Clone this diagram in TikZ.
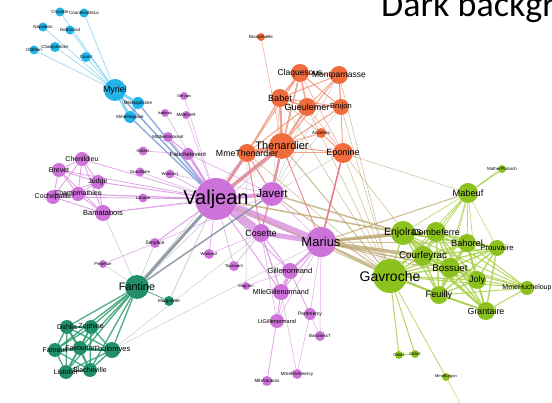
\documentclass[tikz,border=0pt]{standalone}
\usepackage{fontspec}
\setmainfont{Liberation Sans}
\newfontfamily\titlefont{Carlito}
\pgfdeclarelayer{bg}
\pgfdeclarelayer{edges}
\pgfsetlayers{bg,edges,main}
\definecolor{cB}{HTML}{22B4E6}
\definecolor{cP}{HTML}{CC72D8}
\definecolor{cO}{HTML}{F16C3C}
\definecolor{cG}{HTML}{8CC21E}
\definecolor{cD}{HTML}{21906A}
\definecolor{kB}{HTML}{6DCBEE}
\definecolor{kV}{HTML}{7C9FDA}
\definecolor{kP}{HTML}{D98FE2}
\definecolor{kO}{HTML}{F28B6E}
\definecolor{kS}{HTML}{E5808C}
\definecolor{kR}{HTML}{E95A78}
\definecolor{kT}{HTML}{BBA46C}
\definecolor{kG}{HTML}{A5CF40}
\definecolor{kD}{HTML}{2C9C6E}
\definecolor{kX}{HTML}{BDBDBD}
\definecolor{kF}{HTML}{7F8E9C}
\tikzset{
  vtx/.style={circle, inner sep=0pt, draw=none},
  lab/.style={inner sep=0pt, text=black},
  eB/.style={draw=kB, draw opacity=0.8},
  eV/.style={draw=kV, draw opacity=0.85},
  eP/.style={draw=kP, draw opacity=0.8},
  eO/.style={draw=kO, draw opacity=0.8},
  eS/.style={draw=kS, draw opacity=0.85},
  eR/.style={draw=kR, draw opacity=0.85},
  eT/.style={draw=kT, draw opacity=0.75},
  eG/.style={draw=kG, draw opacity=0.8},
  eD/.style={draw=kD, draw opacity=0.85},
  eX/.style={draw=kX, draw opacity=0.75},
  eF/.style={draw=kF, draw opacity=0.85}
}
\newcommand{\vx}[5]{\node[vtx, minimum size=#4pt, fill=#5] (#1) at (#2,#3) {};}
\newcommand{\lb}[3]{\node[lab, font=\fontsize{#3}{#3}\selectfont] (l#1) at (#1) {#2};}
\begin{document}
\begin{tikzpicture}[x=1pt,y=-1pt]
\useasboundingbox (0,0) rectangle (552,403);
\begin{pgfonlayer}{bg}
\fill[white] (0,0) rectangle (552,403);
\end{pgfonlayer}
% ---------- vertices ----------
% blue
\vx{Myriel}{115}{90}{22}{cB}
\vx{Napoleon}{43}{27}{9}{cB}
\vx{CountessDeLo}{84}{13}{9}{cB}
\vx{Cravatte}{60}{12}{9}{cB}
\vx{Geborand}{70}{30}{9}{cB}
\vx{Champtercier}{55}{47}{10}{cB}
\vx{OldMan}{34}{50}{9}{cB}
\vx{Count}{86}{57}{10}{cB}
\vx{MlleBaptistine}{138}{103}{12}{cB}
\vx{MmeMagloire}{130}{117}{12}{cB}
% purple
\vx{Valjean}{216}{199}{42}{cP}
\vx{Gervais}{184}{96}{8}{cP}
\vx{Isabeau}{165}{113}{8}{cP}
\vx{MmeDeR}{186}{115}{8}{cP}
\vx{MotherInnocent}{168}{137}{10}{cP}
\vx{Gribier}{143}{151}{9}{cP}
\vx{Fauchelevent}{188}{154}{12}{cP}
\vx{Scaufflaire}{140}{172}{9}{cP}
\vx{Woman1}{170}{174}{9}{cP}
\vx{Labarre}{143}{198}{9}{cP}
\vx{Chenildieu}{82}{159}{14}{cP}
\vx{Brevet}{59}{170}{14}{cP}
\vx{Judge}{98}{182}{14}{cP}
\vx{Champmathieu}{78}{194}{14}{cP}
\vx{Cochepaille}{53}{197}{14}{cP}
\vx{Bamatabois}{103}{213}{16}{cP}
\vx{Simplice}{155}{243}{10}{cP}
\vx{Perpetue}{103}{264}{8}{cP}
\vx{Woman2}{209}{254}{10}{cP}
\vx{Toussaint}{234}{266}{10}{cP}
\vx{Magnon}{246}{286}{8}{cP}
\vx{Javert}{272}{194}{24}{cP}
\vx{Cosette}{261}{233}{18}{cP}
\vx{Marius}{321}{242}{30}{cP}
\vx{Gillenormand}{290}{271}{16}{cP}
\vx{MlleGillenormand}{281}{292}{16}{cP}
\vx{LtGillenormand}{277}{321}{14}{cP}
\vx{Pontmercy}{310}{314}{12}{cP}
\vx{BaronessT}{320}{336}{10}{cP}
\vx{MmePontmercy}{297}{374}{10}{cP}
\vx{MlleVaubois}{267}{381}{10}{cP}
% orange
\vx{Thenardier}{282}{146}{26}{cO}
\vx{MmeThenardier}{247}{153}{18}{cO}
\vx{Eponine}{343}{153}{20}{cO}
\vx{Anzelma}{321}{133}{10}{cO}
\vx{Boulatruelle}{261}{37}{8}{cO}
\vx{Claquesous}{300}{73}{18}{cO}
\vx{Montparnasse}{339}{75}{18}{cO}
\vx{Babet}{280}{98}{18}{cO}
\vx{Gueulemer}{307}{107}{18}{cO}
\vx{Brujon}{341}{107}{16}{cO}
% green
\vx{Gavroche}{390}{276}{34}{cG}
\vx{Enjolras}{403}{233}{24}{cG}
\vx{Combeferre}{436}{232}{20}{cG}
\vx{Courfeyrac}{423}{256}{20}{cG}
\vx{Bossuet}{450}{268}{20}{cG}
\vx{Bahorel}{467}{243}{18}{cG}
\vx{Prouvaire}{497}{248}{16}{cG}
\vx{Joly}{477}{280}{18}{cG}
\vx{Feuilly}{439}{295}{18}{cG}
\vx{Grantaire}{486}{311}{18}{cG}
\vx{MmeHucheloup}{527}{288}{14}{cG}
\vx{Mabeuf}{468}{193}{20}{cG}
\vx{MotherPlutarch}{502}{169}{8}{cG}
\vx{Child1}{399}{355}{8}{cG}
\vx{Child2}{415}{354}{8}{cG}
\vx{MmeBurgon}{446}{377}{8}{cG}
\coordinate (Jondrette) at (472,425);
% dark green
\vx{Fantine}{137}{287}{24}{cD}
\vx{Marguerite}{169}{301}{10}{cD}
\vx{Dahlia}{67}{327}{14}{cD}
\vx{Zephine}{91}{327}{14}{cD}
\vx{Fameuil}{55}{350}{14}{cD}
\vx{Favourite}{80}{348}{14}{cD}
\vx{Tholomyes}{112}{350}{16}{cD}
\vx{Listolier}{66}{372}{14}{cD}
\vx{Blacheville}{90}{370}{14}{cD}
% ---------- edges ----------
\begin{pgfonlayer}{edges}
\clip (0,0) rectangle (552,403);
\foreach \a/\b/\w in {Myriel/Napoleon/0.6, Myriel/CountessDeLo/0.6, Myriel/Cravatte/0.6, Myriel/Geborand/0.6, Myriel/Champtercier/0.6, Myriel/OldMan/0.6, Myriel/Count/0.6, Myriel/MlleBaptistine/3, Myriel/MmeMagloire/3, MlleBaptistine/MmeMagloire/3}
  \draw[eB, line width=\w pt] (\a) -- (\b);
\foreach \a/\b/\w in {Myriel/Valjean/1.6, MlleBaptistine/Valjean/1.4, MmeMagloire/Valjean/1.4}
  \draw[eV, line width=\w pt] (\a) -- (\b);
% purple
\foreach \a/\b/\w in {Valjean/Labarre/0.5, Valjean/MmeDeR/0.5, Valjean/Isabeau/0.5, Valjean/Gervais/0.5, Valjean/Fauchelevent/2.4, Valjean/Bamatabois/0.8, Valjean/Simplice/1, Valjean/Scaufflaire/0.5, Valjean/Woman1/0.7, Valjean/Judge/1, Valjean/Champmathieu/1.2, Valjean/Brevet/0.8, Valjean/Chenildieu/0.8, Valjean/Cochepaille/0.8, Valjean/Javert/4, Valjean/Cosette/8.5, Valjean/Marius/7, Valjean/Woman2/0.8, Valjean/Toussaint/0.6, Valjean/MotherInnocent/0.8, Valjean/Gillenormand/1, Valjean/MlleGillenormand/1, Fauchelevent/MotherInnocent/1, Fauchelevent/Gribier/0.6, Fauchelevent/Javert/0.6, Bamatabois/Javert/0.5, Simplice/Perpetue/0.6, Simplice/Javert/0.5, Javert/Woman1/0.5, Cosette/Marius/5, Cosette/Gillenormand/1, Cosette/MlleGillenormand/1.2, Cosette/LtGillenormand/0.5, Cosette/Woman2/0.5, Cosette/Toussaint/0.5, Cosette/Javert/0.6, Marius/Gillenormand/2.2, Marius/MlleGillenormand/1, Marius/Pontmercy/0.5, Marius/LtGillenormand/0.5, Marius/BaronessT/0.5, Marius/Javert/0.5, Gillenormand/MlleGillenormand/3, Gillenormand/Magnon/0.5, Gillenormand/Pontmercy/0.5, Gillenormand/LtGillenormand/0.6, Gillenormand/BaronessT/0.5, MlleGillenormand/MlleVaubois/0.5, MlleGillenormand/LtGillenormand/0.6, MlleGillenormand/MmePontmercy/0.5, MmePontmercy/Pontmercy/0.5, LtGillenormand/MlleVaubois/0.4}
  \draw[eP, line width=\w pt] (\a) -- (\b);
\foreach \a [count=\i] in {Chenildieu,Brevet,Judge,Champmathieu,Cochepaille,Bamatabois}
  \foreach \b [count=\j] in {Chenildieu,Brevet,Judge,Champmathieu,Cochepaille,Bamatabois}
    {\ifnum\j>\i \draw[eP, line width=0.9pt] (\a) -- (\b);\fi}
% orange
\foreach \a/\b/\w in {Thenardier/MmeThenardier/4, Thenardier/Eponine/1, Thenardier/Anzelma/0.6, Thenardier/Babet/2.4, Thenardier/Gueulemer/2, Thenardier/Claquesous/1.5, Thenardier/Montparnasse/1, Thenardier/Brujon/1, Thenardier/Boulatruelle/0.5, MmeThenardier/Babet/1.2, MmeThenardier/Gueulemer/1, MmeThenardier/Claquesous/1, MmeThenardier/Eponine/1, MmeThenardier/Anzelma/0.5, Babet/Gueulemer/1.5, Babet/Claquesous/1.5, Babet/Montparnasse/1, Babet/Brujon/1, Gueulemer/Claquesous/1.5, Gueulemer/Montparnasse/1, Gueulemer/Brujon/1, Claquesous/Montparnasse/1, Claquesous/Brujon/1, Montparnasse/Brujon/1, Eponine/Anzelma/0.5, Eponine/Montparnasse/0.5, Eponine/Brujon/0.5, Eponine/Claquesous/0.5, Eponine/Gueulemer/0.5, Eponine/Babet/0.5}
  \draw[eO, line width=\w pt] (\a) -- (\b);
\foreach \a/\b/\w in {Valjean/Thenardier/3.5, Valjean/MmeThenardier/3, Thenardier/Javert/2, MmeThenardier/Javert/1, Thenardier/Cosette/1, MmeThenardier/Cosette/1}
  \draw[eS, line width=\w pt] (\a) -- (\b);
\foreach \a/\b/\w in {Eponine/Marius/1.5, Thenardier/Marius/0.8}
  \draw[eR, line width=\w pt] (\a) -- (\b);
\foreach \a/\b/\w in {Javert/Babet/0.5, Javert/Claquesous/0.5, Javert/Gueulemer/0.5, Javert/Montparnasse/0.5, Javert/Brujon/0.5, Javert/Eponine/0.5, MmeThenardier/Magnon/0.5, Fantine/Bamatabois/0.6, Fantine/Simplice/0.6, Fantine/Perpetue/0.5, Fantine/Thenardier/0.6, Fantine/MmeThenardier/0.6, Marguerite/Valjean/0.8, Tholomyes/Cosette/0.5, Tholomyes/Marius/0.5}
  \draw[eX, line width=\w pt] (\a) -- (\b);
\foreach \a/\b/\w in {Valjean/Fantine/3, Fantine/Javert/1.5}
  \draw[eF, line width=\w pt] (\a) -- (\b);
% tan
\foreach \a/\b/\w in {Marius/Enjolras/3, Marius/Courfeyrac/3.6, Marius/Combeferre/1.5, Marius/Bossuet/1.5, Marius/Feuilly/0.8, Marius/Bahorel/0.8, Marius/Joly/0.8, Marius/Gavroche/2, Marius/Mabeuf/1, Eponine/Mabeuf/0.5, Eponine/Courfeyrac/0.5, Eponine/Gavroche/0.5, Gavroche/Thenardier/1, Gavroche/Babet/0.5, Gavroche/Gueulemer/0.5, Gavroche/Montparnasse/0.5, Gavroche/Brujon/0.5, Gavroche/Javert/1, Gavroche/Valjean/0.8, Enjolras/Javert/1.5, Enjolras/Valjean/1.5, Gavroche/MmeThenardier/0.5}
  \draw[eT, line width=\w pt] (\a) -- (\b);
% green
\foreach \a/\b/\w in {Mabeuf/MotherPlutarch/1.5, Mabeuf/Enjolras/0.6, Mabeuf/Combeferre/0.8, Mabeuf/Courfeyrac/0.8, Mabeuf/Bossuet/0.6, Mabeuf/Bahorel/0.8, Mabeuf/Joly/0.6, Mabeuf/Feuilly/0.8, Mabeuf/Gavroche/0.8, Mabeuf/Prouvaire/0.5, MmeHucheloup/Bossuet/1, MmeHucheloup/Joly/1, MmeHucheloup/Grantaire/1, MmeHucheloup/Bahorel/1, MmeHucheloup/Courfeyrac/1, MmeHucheloup/Gavroche/1, MmeHucheloup/Feuilly/1, MmeHucheloup/Enjolras/1, MmeHucheloup/Combeferre/1, Gavroche/Child1/1, Gavroche/Child2/1, Child1/Child2/1, Gavroche/MmeBurgon/0.8, MmeBurgon/Jondrette/0.5}
  \draw[eG, line width=\w pt] (\a) -- (\b);
\foreach \a [count=\i] in {Enjolras,Combeferre,Courfeyrac,Bossuet,Bahorel,Joly,Feuilly,Grantaire,Prouvaire,Gavroche}
  \foreach \b [count=\j] in {Enjolras,Combeferre,Courfeyrac,Bossuet,Bahorel,Joly,Feuilly,Grantaire,Prouvaire,Gavroche}
    {\ifnum\j>\i \draw[eG, line width=1.4pt] (\a) -- (\b);\fi}
% dark green
\foreach \a [count=\i] in {Fantine,Tholomyes,Listolier,Fameuil,Blacheville,Favourite,Dahlia,Zephine}
  \foreach \b [count=\j] in {Fantine,Tholomyes,Listolier,Fameuil,Blacheville,Favourite,Dahlia,Zephine}
    {\ifnum\j>\i \draw[eD, line width=1.3pt] (\a) -- (\b);\fi}
\draw[eD, line width=0.8pt] (Fantine) -- (Marguerite);
\end{pgfonlayer}
% ---------- labels ----------
\lb{Myriel}{Myriel}{9}
\lb{Napoleon}{Napoleon}{4.5}
\lb{CountessDeLo}{CountessDeLo}{4.5}
\lb{Cravatte}{Cravatte}{4.5}
\lb{Geborand}{Geborand}{4.5}
\lb{Champtercier}{Champtercier}{4.5}
\lb{OldMan}{OldMan}{4.5}
\lb{Count}{Count}{4.5}
\lb{MlleBaptistine}{MlleBaptistine}{4.5}
\lb{MmeMagloire}{MmeMagloire}{4.5}
\lb{Valjean}{Valjean}{20}
\lb{Gervais}{Gervais}{4}
\lb{Isabeau}{Isabeau}{4}
\lb{MmeDeR}{MmeDeR}{4.5}
\lb{MotherInnocent}{MotherInnocent}{4.5}
\lb{Gribier}{Gribier}{4.2}
\lb{Fauchelevent}{Fauchelevent}{6}
\lb{Scaufflaire}{Scaufflaire}{4.2}
\lb{Woman1}{Woman1}{4.2}
\lb{Labarre}{Labarre}{4.2}
\lb{Chenildieu}{Chenildieu}{7}
\lb{Brevet}{Brevet}{7}
\lb{Judge}{Judge}{7}
\lb{Champmathieu}{Champmathieu}{7}
\lb{Cochepaille}{Cochepaille}{7}
\lb{Bamatabois}{Bamatabois}{7.5}
\lb{Simplice}{Simplice}{5}
\lb{Perpetue}{Perpetue}{4.2}
\lb{Woman2}{Woman2}{4.2}
\lb{Toussaint}{Toussaint}{4.2}
\lb{Magnon}{Magnon}{4.2}
\lb{Javert}{Javert}{11.5}
\lb{Cosette}{Cosette}{9}
\lb{Marius}{Marius}{13}
\lb{Gillenormand}{Gillenormand}{7.5}
\lb{MlleGillenormand}{MlleGillenormand}{7.2}
\lb{LtGillenormand}{LtGillenormand}{5.6}
\lb{Pontmercy}{Pontmercy}{5}
\lb{BaronessT}{BaronessT}{4.5}
\lb{MmePontmercy}{MmePontmercy}{4.6}
\lb{MlleVaubois}{MlleVaubois}{4.6}
\lb{Thenardier}{Thenardier}{11}
\lb{MmeThenardier}{MmeThenardier}{8.8}
\lb{Eponine}{Eponine}{9}
\lb{Anzelma}{Anzelma}{4.5}
\lb{Boulatruelle}{Boulatruelle}{4.5}
\lb{Claquesous}{Claquesous}{8.5}
\lb{Montparnasse}{Montparnasse}{8.5}
\lb{Babet}{Babet}{9}
\lb{Gueulemer}{Gueulemer}{9}
\lb{Brujon}{Brujon}{7.5}
\lb{Gavroche}{Gavroche}{14}
\lb{Enjolras}{Enjolras}{10.5}
\lb{Combeferre}{Combeferre}{9}
\lb{Courfeyrac}{Courfeyrac}{9.8}
\lb{Bossuet}{Bossuet}{9.7}
\lb{Bahorel}{Bahorel}{9.2}
\lb{Prouvaire}{Prouvaire}{7.8}
\lb{Joly}{Joly}{9}
\lb{Feuilly}{Feuilly}{9.2}
\lb{Grantaire}{Grantaire}{8.8}
\lb{MmeHucheloup}{MmeHucheloup}{7}
\lb{Mabeuf}{Mabeuf}{9.2}
\lb{MotherPlutarch}{MotherPlutarch}{4.4}
\lb{Child1}{Child1}{4}
\lb{Child2}{Child2}{4}
\lb{MmeBurgon}{MmeBurgon}{4}
\lb{Fantine}{Fantine}{10.8}
\lb{Marguerite}{Marguerite}{4.6}
\lb{Dahlia}{Dahlia}{7}
\lb{Zephine}{Zephine}{7}
\lb{Fameuil}{Fameuil}{7}
\lb{Favourite}{Favourite}{7}
\lb{Tholomyes}{Tholomyes}{7.5}
\lb{Listolier}{Listolier}{7}
\lb{Blacheville}{Blacheville}{7}
% ---------- title (cut off at the right edge, as in the reference) ----------
\node[anchor=base west, inner sep=0pt, font=\titlefont\fontsize{36}{36}\selectfont] (title) at (381,17) {Dark background};
\end{tikzpicture}
\end{document}
